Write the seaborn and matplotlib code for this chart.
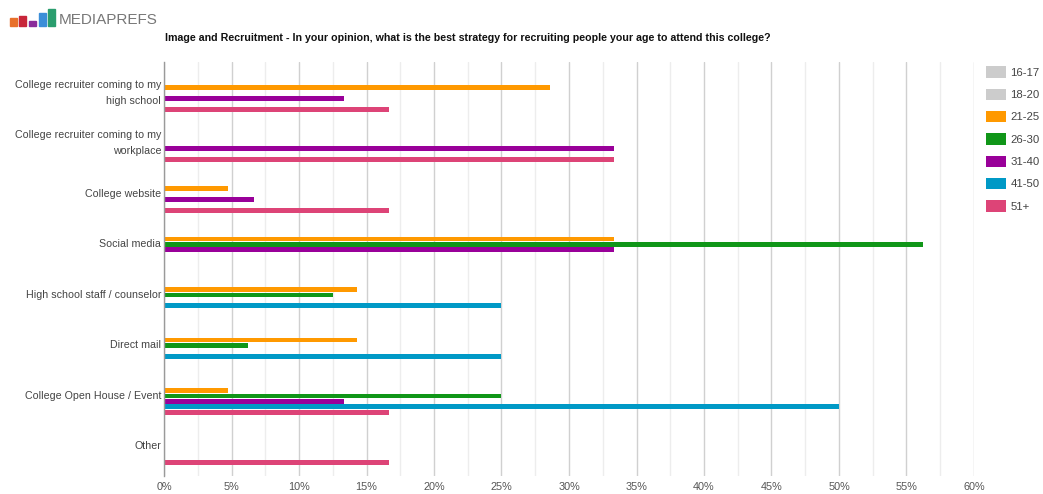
import numpy as np
import pandas as pd
import matplotlib
matplotlib.use("Agg")
import matplotlib.pyplot as plt
import matplotlib.transforms as mtransforms
from matplotlib.patches import Rectangle, Patch
from matplotlib.ticker import MultipleLocator, FuncFormatter
import seaborn as sns

# ---------------- data ----------------
categories = [
    "College recruiter coming to my\nhigh school",
    "College recruiter coming to my\nworkplace",
    "College website",
    "Social media",
    "High school staff / counselor",
    "Direct mail",
    "College Open House / Event",
    "Other",
]
age_groups = ["16-17", "18-20", "21-25", "26-30", "31-40", "41-50", "51+"]

v_16_17 = [0, 0, 0, 0, 0, 0, 0, 0]
v_18_20 = [0, 0, 0, 0, 0, 0, 0, 0]
v_21_25 = [28.57, 0, 4.76, 33.33, 14.29, 14.29, 4.76, 0]
v_26_30 = [0, 0, 0, 56.25, 12.5, 6.25, 25.0, 0]
v_31_40 = [13.33, 33.33, 6.67, 33.33, 0, 0, 13.33, 0]
v_41_50 = [0, 0, 0, 0, 25.0, 25.0, 50.0, 0]
v_51p = [16.67, 33.33, 16.67, 0, 0, 0, 16.67, 16.67]

colors = ["#cccccc", "#cccccc", "#ff9900", "#109618", "#990099", "#0099c6", "#dd4477"]
title = ("Image and Recruitment - In your opinion, what is the best strategy for "
         "recruiting people your age to attend this college?")

series = [v_16_17, v_18_20, v_21_25, v_26_30, v_31_40, v_41_50, v_51p]
rows = []
for ag, vals in zip(age_groups, series):
    for c, v in zip(categories, vals):
        rows.append({"category": c, "age": ag, "value": v})
df = pd.DataFrame(rows)

# ---------------- figure ----------------
sns.set_theme(style="white")
plt.rcParams["font.family"] = ["Liberation Sans", "DejaVu Sans"]

fig = plt.figure(figsize=(10.43, 4.94), dpi=100)
ax_top, ax_bot = 62, 476
ax = fig.add_axes([164 / 1043, 1 - ax_bot / 494, (974 - 164) / 1043, (ax_bot - ax_top) / 494])

sns.barplot(data=df, y="category", x="value", hue="age", order=categories,
            hue_order=age_groups, palette=colors, orient="h", width=0.76,
            gap=0.16, linewidth=0, saturation=1, legend=False, ax=ax, zorder=3)

ppu = 50.5
y_top = -0.61
ax.set_xlim(0, 60)
ax.set_ylim(y_top + (ax_bot - ax_top) / ppu, y_top)
ax.xaxis.set_major_locator(MultipleLocator(5))
ax.xaxis.set_minor_locator(MultipleLocator(2.5))
ax.xaxis.set_major_formatter(FuncFormatter(lambda v, p: f"{v:.0f}%"))
ax.grid(True, which="major", axis="x", color="#d0d0d0", lw=1, zorder=0)
ax.grid(True, which="minor", axis="x", color="#ededed", lw=1, zorder=0)
ax.set_axisbelow(True)
for s in ["top", "right", "bottom"]:
    ax.spines[s].set_visible(False)
ax.spines["left"].set_color("#9a9a9a")
ax.spines["left"].set_linewidth(1)
ax.spines["left"].set_zorder(5)
ax.set_xlabel("")
ax.set_ylabel("")

ax.set_yticks(np.arange(len(categories)) - 0.02)
ax.set_yticklabels(categories, linespacing=1.75)
ax.tick_params(axis="y", length=0, pad=2, labelsize=7.7, labelcolor="#444444")
ax.tick_params(axis="x", which="both", length=0, pad=4, labelsize=7.8, labelcolor="#555555")
shift_up = mtransforms.ScaledTranslation(0, 3 / 100, fig.dpi_scale_trans)
for lab in ax.get_yticklabels():
    if "\n" in lab.get_text():
        lab.set_transform(lab.get_transform() + shift_up)

# title
fig.text(165 / 1043, 1 - 38 / 494, title, fontsize=7.65, fontweight="bold",
         color="#111111", ha="left", va="center")

# logo
logo_bars = [(10, 18, 8, "#e8702a"), (19, 16, 10, "#c8263a"), (29, 21, 5, "#8a2b9a"),
             (39, 13, 13, "#3b8ed8"), (48, 9, 17, "#2a9d6e")]
for x0, y0, h, c in logo_bars:
    fig.patches.append(Rectangle((x0 / 1043, 1 - (y0 + h) / 494), 7 / 1043, h / 494,
                                 transform=fig.transFigure, color=c))
fig.text(59 / 1043, 1 - 19.5 / 494, "MEDIAPREFS", fontsize=11, color="#777777",
         ha="left", va="center")

# legend
handles = [Patch(facecolor=c, edgecolor="none") for c in colors]
fig.legend(handles, age_groups, loc="upper left", bbox_to_anchor=(983.5 / 1043, 1 - 64 / 494),
           frameon=False, fontsize=8.2, handlelength=1.75, handleheight=1.15,
           labelspacing=0.95, handletextpad=0.4, borderaxespad=0, borderpad=0.2,
           labelcolor="#444444")

fig.savefig("out.png", dpi=100)
